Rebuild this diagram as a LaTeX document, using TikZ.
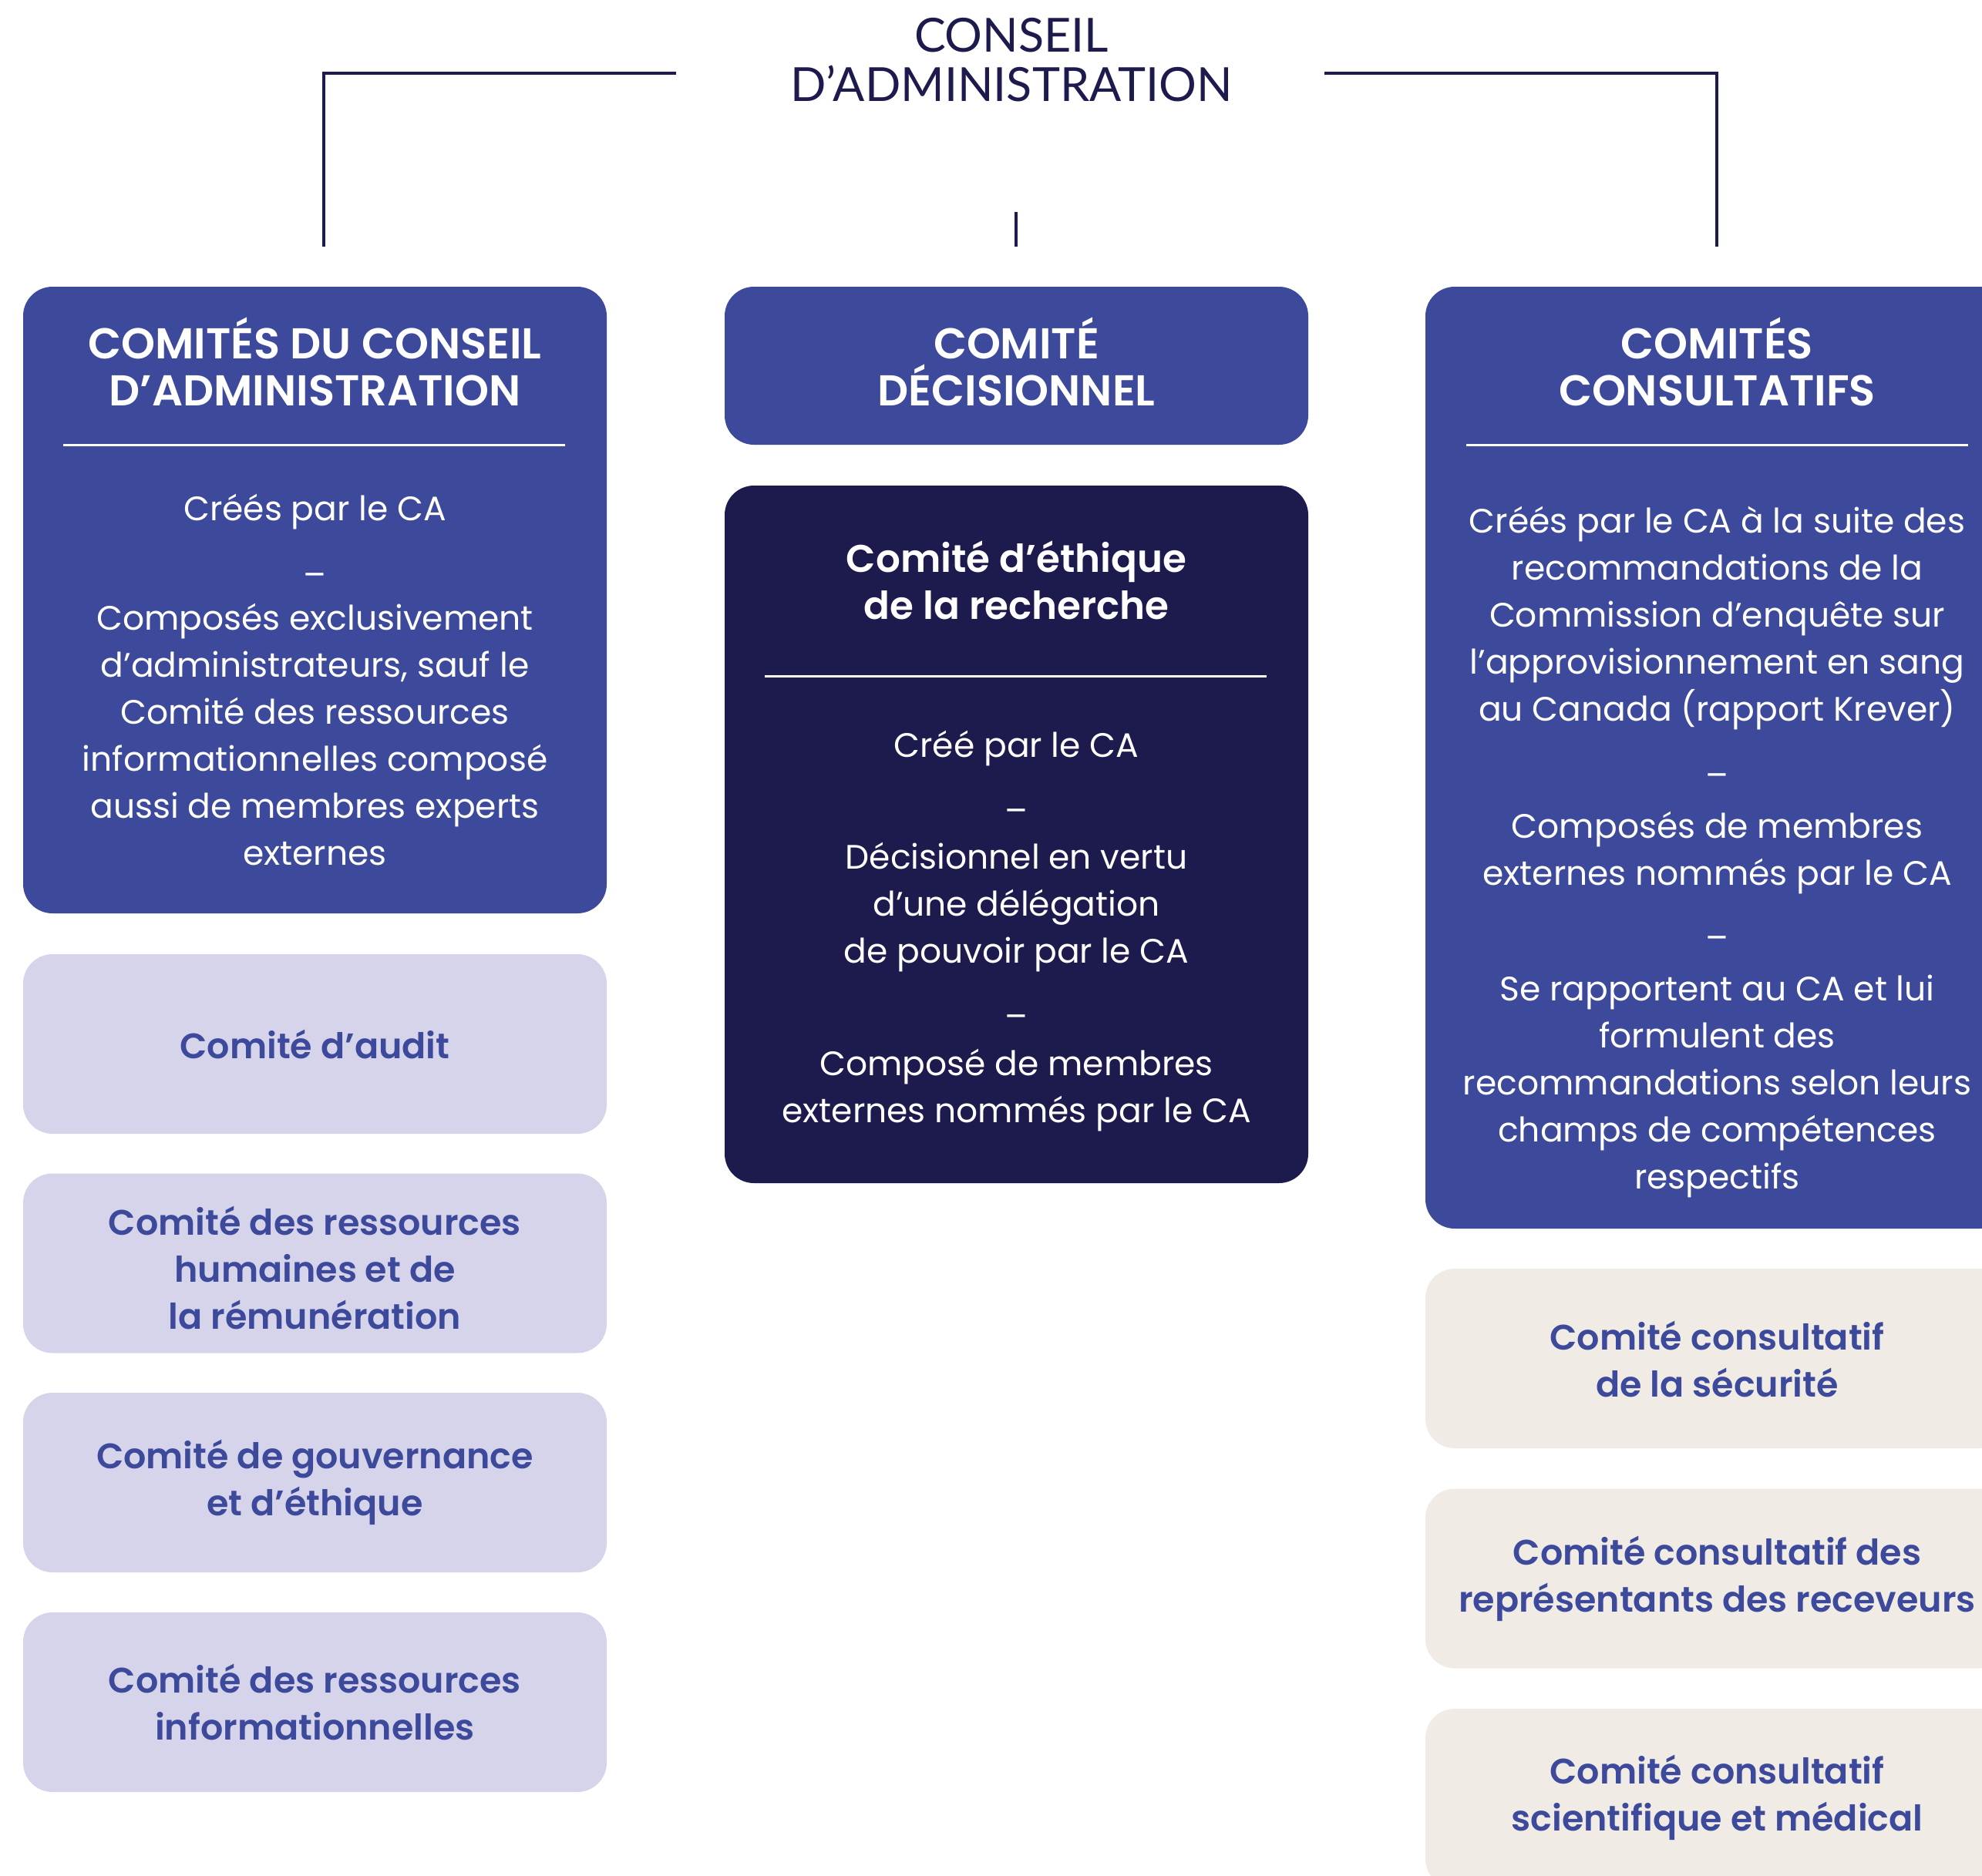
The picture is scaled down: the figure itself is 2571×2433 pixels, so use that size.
\documentclass[tikz,border=0pt]{standalone}
\usepackage{fontspec}
\setmainfont{Poppins}[BoldFont={Poppins SemiBold}]
\newfontfamily\titlefont{Lato}
\usetikzlibrary{calc}
\definecolor{blueA}{HTML}{3D4A9C}
\definecolor{navy}{HTML}{1D1A4E}
\definecolor{lav}{HTML}{D6D4EA}
\definecolor{beige}{HTML}{F0ECE5}
\begin{document}
\begin{tikzpicture}[x=1pt,y=-1pt,
  boxshape/.style={rounded corners=38pt, minimum width=757pt, inner sep=0pt, outer sep=0pt, draw=none},
  bodytxt/.style={text=white, align=center, inner sep=0pt, font=\fontsize{44}{61}\selectfont},
  headtxt/.style={text=white, align=center, inner sep=0pt, font=\fontsize{56}{61}\selectfont\bfseries},
  smalltxt/.style={text=blueA, align=center, inner sep=0pt, font=\fontsize{46}{61}\selectfont\bfseries},
  conn/.style={draw=navy, line width=3.5pt},
  sep/.style={draw=white, line width=3pt}
]
\useasboundingbox (0,0) rectangle (2571,2433);

% title
\node[text=navy, align=center, inner sep=0pt, font=\titlefont\fontsize{61}{64}\selectfont] (ca) at (1312,78) {CONSEIL\\D’ADMINISTRATION};
\coordinate (lA) at (877,95);
\coordinate (lB) at (420,95);
\coordinate (lC) at (420,320);
\coordinate (rA) at (1718,95);
\coordinate (rB) at (2227,95);
\coordinate (rC) at (2227,320);
\coordinate (mA) at (1318,275);
\coordinate (mB) at (1318,320);
\draw[conn] (lA) -- (lB) -- (lC);
\draw[conn] (rA) -- (rB) -- (rC);
\draw[conn] (mA) -- (mB);

% left column
\node[boxshape, fill=blueA, minimum height=813pt] (cca) at (408.5,778.5) {};
\node[headtxt] (ccah) at (408.5,469) {COMITÉS DU CONSEIL\\D’ADMINISTRATION};
\draw[sep] ($(cca.north west)+(52,205)$) -- ($(cca.north east)+(-54,205)$);
\node[bodytxt] (ccab1) at (408.5,664) {Créés par le CA};
\node[bodytxt] (ccad1) at (408.5,753) {–};
\node[bodytxt] (ccab2) at (408.5,953) {Composés exclusivement\\d’administrateurs, sauf le\\Comité des ressources\\informationnelles composé\\aussi de membres experts\\externes};

\node[boxshape, fill=lav, minimum height=233pt] (s1) at (408.5,1354.5) {};
\node[smalltxt] (s1t) at (s1) {Comité d’audit};
\node[boxshape, fill=lav, minimum height=233pt] (s2) at (408.5,1639) {};
\node[smalltxt] (s2t) at (408.5,1645) {Comité des ressources\\humaines et de\\la rémunération};
\node[boxshape, fill=lav, minimum height=233pt] (s3) at (408.5,1923.5) {};
\node[smalltxt] (s3t) at (s3) {Comité de gouvernance\\et d’éthique};
\node[boxshape, fill=lav, minimum height=233pt] (s4) at (408.5,2208.5) {};
\node[smalltxt] (s4t) at (s4) {Comité des ressources\\informationnelles};

% middle column
\node[boxshape, fill=blueA, minimum height=205pt] (cd) at (1318.5,474.5) {};
\node[headtxt] (cdh) at (1318.5,469) {COMITÉ\\DÉCISIONNEL};
\node[boxshape, fill=navy, minimum height=905pt] (cer) at (1318.5,1082.5) {};
\node[headtxt, font=\fontsize{50}{61}\selectfont\bfseries] (cerh) at (1318.5,753) {Comité d’éthique\\de la recherche};
\draw[sep] ($(cer.north west)+(52,247)$) -- ($(cer.north east)+(-54,247)$);
\node[bodytxt] (cerb1) at (1318.5,971) {Créé par le CA};
\node[bodytxt] (cerd1) at (1318.5,1059) {–};
\node[bodytxt] (cerb2) at (1318.5,1177) {Décisionnel en vertu\\d’une délégation\\de pouvoir par le CA};
\node[bodytxt] (cerd2) at (1318.5,1326) {–};
\node[bodytxt] (cerb3) at (1318.5,1414) {Composé de membres\\externes nommés par le CA};

% right column
\node[boxshape, fill=blueA, minimum height=1222pt] (cc) at (2227.5,983) {};
\node[headtxt] (cch) at (2227.5,469) {COMITÉS\\CONSULTATIFS};
\draw[sep] ($(cc.north west)+(53,205)$) -- ($(cc.north east)+(-53,205)$);
\node[bodytxt] (ccb1) at (2227.5,802) {Créés par le CA à la suite des\\recommandations de la\\Commission d’enquête sur\\l’approvisionnement en sang\\au Canada (rapport Krever)};
\node[bodytxt] (ccd1) at (2227.5,1013) {–};
\node[bodytxt] (ccb2) at (2227.5,1106) {Composés de membres\\externes nommés par le CA};
\node[bodytxt] (ccd2) at (2227.5,1224) {–};
\node[bodytxt] (ccb3) at (2227.5,1409) {Se rapportent au CA et lui\\formulent des\\recommandations selon leurs\\champs de compétences\\respectifs};

\node[boxshape, fill=beige, minimum height=233pt] (r1) at (2227.5,1762.5) {};
\node[smalltxt] (r1t) at (2227.5,1763) {Comité consultatif\\de la sécurité};
\node[boxshape, fill=beige, minimum height=233pt] (r2) at (2227.5,2048) {};
\node[smalltxt] (r2t) at (2227.5,2048) {Comité consultatif des\\représentants des receveurs};
\node[boxshape, fill=beige, minimum height=233pt] (r3) at (2227.5,2333.5) {};
\node[smalltxt] (r3t) at (2227.5,2332) {Comité consultatif\\scientifique et médical};
\end{tikzpicture}
\end{document}
